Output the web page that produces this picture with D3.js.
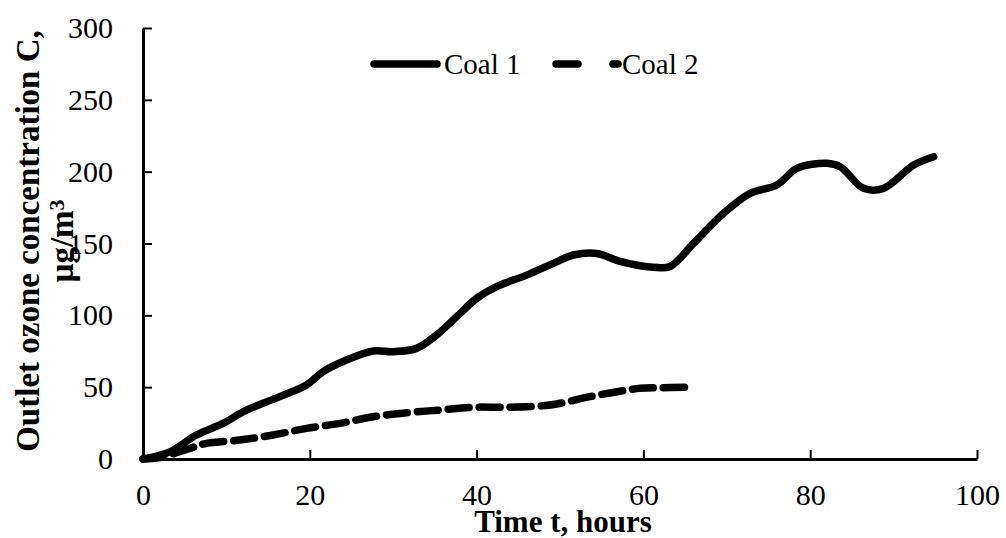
<!DOCTYPE html>
<html>
<head>
<meta charset="utf-8">
<script src="https://cdn.jsdelivr.net/npm/d3@7/dist/d3.min.js"></script>
<style>
  body { margin: 0; background: #fff; }
  svg text { font-family: "Liberation Serif", "Times New Roman", serif; fill: #000; }
</style>
</head>
<body>
<div id="chart"></div>
<script>
// series
var seriesNames = ["Coal 1", "Coal 2"];

var coal1Hours = [0, 3.2, 6.4, 9.6, 12.4, 16.4, 19.6, 21.6, 24.4, 27.6, 30, 32.8, 35.2, 37.6, 40, 42.4, 46, 49.2, 51.6, 54.4, 57.2, 59.6, 61.2, 63.2, 66, 69.6, 72.8, 76, 78.4, 82, 83.6, 86.4, 88.8, 92.4, 94.8];
var coal1Values = [0, 5, 16.7, 24.8, 34, 43.4, 51.5, 60.8, 68.9, 75.2, 74.7, 77, 86.3, 99, 111.8, 120, 128, 136.2, 142, 143.1, 137.5, 134.5, 133.5, 134, 150, 171, 184.9, 190.7, 202.3, 205.8, 203.4, 188.4, 188.4, 204.6, 210.4];

var coal2Hours = [0, 2, 5.6, 7.6, 11.6, 15.6, 19.6, 23.6, 27.6, 31.6, 35.6, 39.6, 43.6, 47.6, 49.6, 53.6, 57.6, 59.6, 62, 65];
var coal2Values = [0, 1, 7.4, 10.9, 13.2, 16.7, 21.3, 24.8, 29.4, 32.2, 34.1, 36, 36, 36.9, 38.3, 43.4, 47.6, 49.2, 49.6, 50];

var xTicks = [0, 20, 40, 60, 80, 100];
var yTicks = [0, 50, 100, 150, 200, 250, 300];

function init(){
	var w = 1006;
	var h = 538;
	var margin = {left: 143, right: 29, top: 28, bottom: 79};

	var xScale = d3.scaleLinear().domain([0, 100]).range([margin.left, w - margin.right]);
	var yScale = d3.scaleLinear().domain([0, 300]).range([h - margin.bottom, margin.top]);

	var svg = d3.select("#chart").append("svg")
		.attr("width", w)
		.attr("height", h);

	// axes, ticks point inward like the original
	var xAxis = svg.append("g")
		.attr("transform", "translate(0," + yScale(0) + ")")
		.call(d3.axisBottom(xScale).tickValues(xTicks).tickSizeInner(-9).tickSizeOuter(0).tickPadding(40));
	var yAxis = svg.append("g")
		.attr("transform", "translate(" + xScale(0) + ",0)")
		.call(d3.axisLeft(yScale).tickValues(yTicks).tickSizeInner(-9).tickSizeOuter(0).tickPadding(30));

	[xAxis, yAxis].forEach(function(a){
		a.select(".domain").attr("stroke", "#000").attr("stroke-width", 3);
		a.selectAll(".tick line").attr("stroke", "#000").attr("stroke-width", 2);
		a.selectAll(".tick text").attr("font-size", "30px").attr("font-family", "Liberation Serif");
	});
	xAxis.selectAll(".tick text").attr("dy", "0.2em");

	// axis titles
	svg.append("text")
		.attr("x", xScale(50) + 3)
		.attr("y", 532)
		.attr("text-anchor", "middle")
		.attr("font-weight", "bold")
		.attr("font-size", "31px")
		.text("Time t, hours");

	var yt = svg.append("text")
		.attr("transform", "translate(39,241) rotate(-90)")
		.attr("text-anchor", "middle")
		.attr("font-weight", "bold")
		.attr("font-size", "33px");
	yt.append("tspan").attr("x", 0).attr("y", 0).text("Outlet ozone concentration C,");
	yt.append("tspan").attr("x", 0).attr("y", 34).text("\u00b5g/m");
	yt.append("tspan").attr("dy", "-0.4em").attr("font-size", "22px").text("3");

	// lines
	var line = d3.line()
		.x(function(d){ return xScale(d[0]); })
		.y(function(d){ return yScale(d[1]); })
		.curve(d3.curveCatmullRom.alpha(0.5));

	var coal1 = d3.zip(coal1Hours, coal1Values);
	var coal2 = d3.zip(coal2Hours, coal2Values);

	svg.append("path")
		.datum(coal2)
		.attr("d", line)
		.attr("fill", "none")
		.attr("stroke", "#000")
		.attr("stroke-width", 7.5)
		.attr("stroke-linecap", "round")
		.attr("stroke-dasharray", "21,10");

	svg.append("path")
		.datum(coal1)
		.attr("d", line)
		.attr("fill", "none")
		.attr("stroke", "#000")
		.attr("stroke-width", 7.5)
		.attr("stroke-linecap", "round")
		.attr("stroke-linejoin", "round");

	// legend
	var leg = svg.append("g");
	leg.append("line")
		.attr("x1", 374).attr("x2", 437).attr("y1", 64).attr("y2", 64)
		.attr("stroke", "#000").attr("stroke-width", 7.5).attr("stroke-linecap", "round");
	leg.append("text").attr("x", 444).attr("y", 74).attr("font-size", "29px").text(seriesNames[0]);

	leg.append("line")
		.attr("x1", 556).attr("x2", 618).attr("y1", 64).attr("y2", 64)
		.attr("stroke", "#000").attr("stroke-width", 7.5).attr("stroke-linecap", "round")
		.attr("stroke-dasharray", "22,35");
	leg.append("text").attr("x", 622).attr("y", 74).attr("font-size", "29px").text(seriesNames[1]);
}
window.onload = init;
</script>
</body>
</html>
